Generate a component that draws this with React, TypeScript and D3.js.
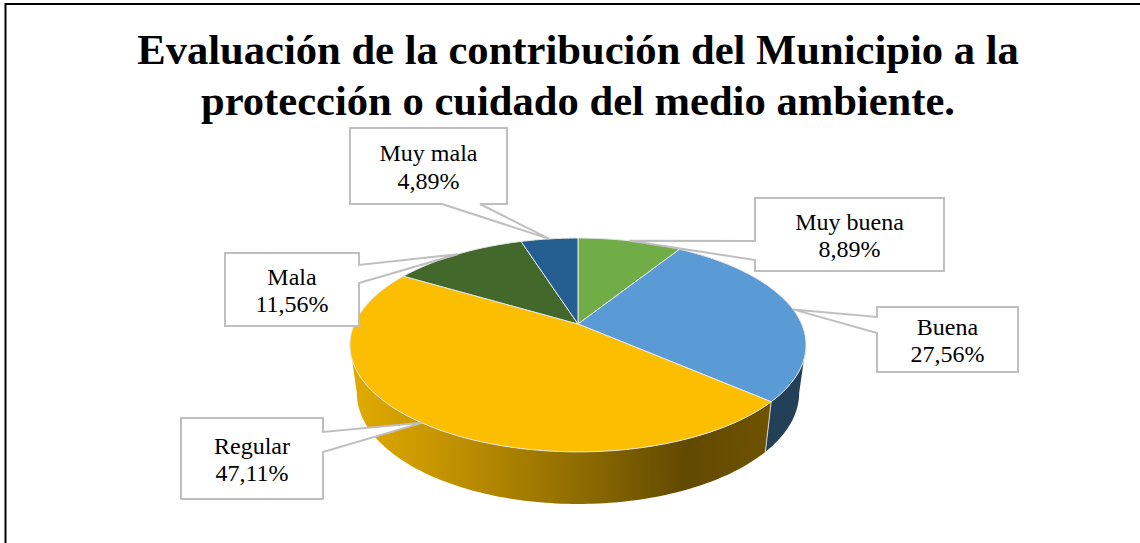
import React from 'react';
import * as d3 from 'd3';

const WIDTH = 1140;
const HEIGHT = 543;

const TITLE_LINES = [
    'Evaluación de la contribución del Municipio a la',
    'protección o cuidado del medio ambiente.',
];

// clockwise from 12 o'clock
const categories = ['Muy buena', 'Buena', 'Regular', 'Mala', 'Muy mala'];
const percentages = [8.89, 27.56, 47.11, 11.56, 4.89];

const topColors = ['#70AD47', '#5B9BD5', '#FBBE00', '#43682B', '#255E91'];
const wallColors = ['#3E6027', '#243F58', 'url(#regularWall)', '#2A4019', '#16385A'];

// callout box per category, pointer base sits on one side of the box
const calloutBoxes = [
    { x0: 755, x1: 944, y0: 198, y1: 271, side: 'left', b0: 241, b1: 260 },
    { x0: 877, x1: 1018, y0: 307, y1: 372, side: 'left', b0: 317, b1: 333 },
    { x0: 181, x1: 323, y0: 418, y1: 499, side: 'right', b0: 432, b1: 452 },
    { x0: 225, x1: 359, y0: 253, y1: 326, side: 'right', b0: 265, b1: 283 },
    { x0: 350, x1: 507, y0: 128, y1: 204, side: 'bottom', b0: 442, b1: 480 },
];

// perspective of the tilted disc: apex of the slices is not the ellipse centre
const CX = 578;
const APEX_Y = 324;
const KX = 223.6;
const KY = 39.3;
const PERSP = 0.196;
// lower rim of the extrusion relative to the top rim
const WALL_SX = 0.97;
const WALL_SY = 1.04;
const WALL_DY = 47;
// the disc is widest a bit below the apex, walls start from there
const WALL_START = Math.acos(-PERSP);

type Pt = [number, number];

const rim = (a: number): Pt => {
    const d = 1 + PERSP * Math.cos(a);
    return [CX + (KX * Math.sin(a)) / d, (APEX_Y - KY * Math.cos(a)) / d];
};

const lowerRim = (a: number): Pt => {
    const [x, y] = rim(a);
    return [CX + WALL_SX * (x - CX), APEX_Y + WALL_SY * (y - APEX_Y) + WALL_DY];
};

const sample = (a0: number, a1: number): number[] => {
    const n = Math.max(2, Math.ceil(Math.abs(a1 - a0) / 0.02));
    return d3.range(n + 1).map((i) => a0 + ((a1 - a0) * i) / n);
};

const line = d3.line<Pt>();

const arcs = d3
    .pie<number>()
    .sort(null)
    .value((d) => d)(percentages);

const formatPct = (v: number) => `${v.toFixed(2).replace('.', ',')}%`;

function calloutPath(box: (typeof calloutBoxes)[number], tip: Pt): string {
    const { x0, x1, y0, y1, side, b0, b1 } = box;
    let pts: Pt[];
    if (side === 'left') {
        pts = [[x0, y0], [x1, y0], [x1, y1], [x0, y1], [x0, b1], tip, [x0, b0]];
    } else if (side === 'right') {
        pts = [[x0, y0], [x1, y0], [x1, b0], tip, [x1, b1], [x1, y1], [x0, y1]];
    } else {
        pts = [[x0, y0], [x1, y0], [x1, y1], [b1, y1], tip, [b0, y1], [x0, y1]];
    }
    return `${line(pts)}Z`;
}

export default function App() {
    const visibleWalls = arcs
        .map((d, i) => ({
            i,
            start: d.startAngle,
            a0: Math.max(d.startAngle, WALL_START),
            a1: Math.min(d.endAngle, 2 * Math.PI - WALL_START),
        }))
        .filter((d) => d.a1 > d.a0);

    return (
        <svg
            width={WIDTH}
            height={HEIGHT}
            style={{ position: 'fixed', left: 0, top: 0, background: '#fff' }}
            fontFamily="'Liberation Serif', serif"
        >
            <defs>
                <linearGradient id="regularWall" gradientUnits="userSpaceOnUse" x1={350} x2={770} y1={0} y2={0}>
                    <stop offset="0" stopColor="#E2AB00" />
                    <stop offset="0.2" stopColor="#C79600" />
                    <stop offset="0.55" stopColor="#8E6C00" />
                    <stop offset="0.8" stopColor="#614900" />
                    <stop offset="1" stopColor="#6E5300" />
                </linearGradient>
            </defs>

            <path d="M5.5,543V4H1140" fill="none" stroke="#000" strokeWidth={2} />

            {TITLE_LINES.map((t, i) => (
                <text
                    key={t}
                    x={578}
                    y={64 + i * 50.5}
                    textAnchor="middle"
                    fontSize={42.6}
                    fontWeight="bold"
                    fill="#000"
                >
                    {t}
                </text>
            ))}

            {visibleWalls.map(({ i, a0, a1 }) => {
                const top = sample(a0, a1).map(rim);
                const low = sample(a1, a0).map(lowerRim);
                return <path key={i} d={`${line([...top, ...low])}Z`} fill={wallColors[i]} />;
            })}
            {visibleWalls
                .filter(({ a0, start }) => a0 === start)
                .map(({ i, a0 }) => (
                    <path key={i} d={line([rim(a0), lowerRim(a0)]) as string} stroke="#D9D9D9" strokeWidth={1} fill="none" />
                ))}

            {arcs.map((d, i) => {
                const pts: Pt[] = [[CX, APEX_Y], ...sample(d.startAngle, d.endAngle).map(rim)];
                return (
                    <path
                        key={categories[i]}
                        d={`${line(pts)}Z`}
                        fill={topColors[i]}
                        stroke="#E6E6E6"
                        strokeWidth={1}
                        strokeLinejoin="round"
                    />
                );
            })}

            {arcs.map((d, i) => {
                const box = calloutBoxes[i];
                const tip = rim((d.startAngle + d.endAngle) / 2);
                const tx = (box.x0 + box.x1) / 2;
                const ty = (box.y0 + box.y1) / 2;
                return (
                    <g key={categories[i]}>
                        <path d={calloutPath(box, tip)} fill="#fff" stroke="#BFBFBF" strokeWidth={2} strokeLinejoin="miter" />
                        <text x={tx} y={ty - 5} textAnchor="middle" fontSize={24} fill="#000">
                            {categories[i]}
                        </text>
                        <text x={tx} y={ty + 22.5} textAnchor="middle" fontSize={24} fill="#000">
                            {formatPct(percentages[i])}
                        </text>
                    </g>
                );
            })}
        </svg>
    );
}
